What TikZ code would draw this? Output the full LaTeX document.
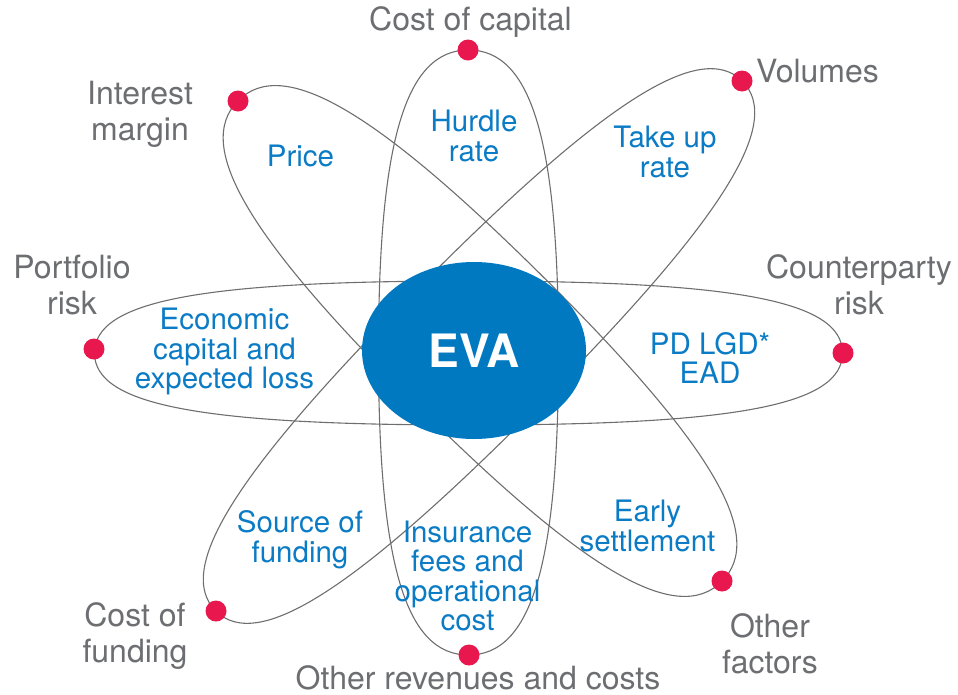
\documentclass[tikz,border=0pt]{standalone}
\usepackage{fontspec}
\setmainfont{TeX Gyre Heros}
\usetikzlibrary{shapes.geometric}

\definecolor{orbitgray}{HTML}{6E6E6E}
\definecolor{labelgray}{HTML}{6D6E71}
\definecolor{evablue}{HTML}{0079C1}
\definecolor{textblue}{HTML}{0A7BC4}
\definecolor{dotred}{HTML}{E8174E}

% A full, slightly squared oval: centre x, centre y, half length, half width,
% rotation, handle factor of the four Bezier quarters
\newcommand\fatoval[6]{%
  \pgfmathsetmacro\ovka{#6*#3}%
  \pgfmathsetmacro\ovkb{#6*#4}%
  \draw[orbit,shift={(#1,#2)},rotate=#5]
    (#3,0) .. controls (#3,\ovkb) and (\ovka,#4) .. (0,#4)
    .. controls (-\ovka,#4) and (-#3,\ovkb) .. (-#3,0)
    .. controls (-#3,-\ovkb) and (-\ovka,-#4) .. (0,-#4)
    .. controls (\ovka,-#4) and (#3,-\ovkb) .. (#3,0) -- cycle;
}

\tikzset{
  orbit/.style={draw=orbitgray, line width=1.1pt},
  dot/.style={circle, fill=dotred, minimum size=21pt, inner sep=0pt},
  evanode/.style={ellipse, fill=evablue, minimum width=224pt, minimum height=177pt,
    inner sep=0pt, text=white, font=\bfseries\fontsize{46}{46}\selectfont},
  graylabel/.style={text=labelgray, font=\fontsize{32}{36}\selectfont,
    align=center, inner sep=0pt},
  bluelabel/.style={text=textblue, font=\fontsize{29.5}{29.5}\selectfont,
    align=center, inner sep=0pt},
}

\begin{document}
\begin{tikzpicture}[x=1pt,y=-1pt]
\useasboundingbox (0,0) rectangle (958,694);

% the four orbits
\fatoval{468.5}{353}{374}{72}{0}{0.72}
\fatoval{468.5}{352.5}{302.5}{90}{90}{0.70}
\fatoval{480}{341}{341}{90}{-44.8}{0.70}
\fatoval{479}{346}{373.5}{84}{45.2}{0.70}

% centre
\node[evanode] (eva) at (474,350.5) {EVA};

% points on the orbits
\node[dot] (dcap)  at (468,50)  {};
\node[dot] (dvol)  at (742,81)  {};
\node[dot] (dcpty) at (843,353) {};
\node[dot] (doth)  at (722,581) {};
\node[dot] (dorc)  at (469,655) {};
\node[dot] (dcof)  at (216,611) {};
\node[dot] (dport) at (94,349)  {};
\node[dot] (dint)  at (238,101) {};

% outer labels
\node[graylabel, anchor=base] (lcap) at (470.5,30.5) {Cost of capital};
\node[graylabel, anchor=base] (lvol) at (817.5,82) {Volumes};
\node[graylabel] (lcpty) at (859,285) {Counterparty\\risk};
\node[graylabel] (lint)  at (140,114.3) {Interest\\margin};
\node[graylabel] (lport) at (72,285)  {Portfolio\\risk};
\node[graylabel] (lcof)  at (135,636) {Cost of\\funding};
\node[graylabel, anchor=base] (lorc) at (478,689) {Other revenues and costs};
\node[graylabel] (loth)  at (770,644) {Other\\factors};

% inner labels
\node[bluelabel, anchor=base] (tprice) at (300.5,166.5) {Price};
\node[bluelabel] (thurdle) at (474,136)  {Hurdle\\rate};
\node[bluelabel] (ttake)   at (665,152)  {Take up\\rate};
\node[bluelabel] (tecon)   at (224.5,351.5)  {Economic\\capital and\\expected loss};
\node[bluelabel] (tpd)     at (710,358)  {PD LGD*\\EAD};
\node[bluelabel] (tsource) at (300,539.5)    {Source of\\funding};
\node[bluelabel] (tins)    at (467.5,575.8){Insurance\\fees and\\operational\\cost};
\node[bluelabel] (tearly)  at (647.5,525.8){Early\\settlement};
\end{tikzpicture}
\end{document}
